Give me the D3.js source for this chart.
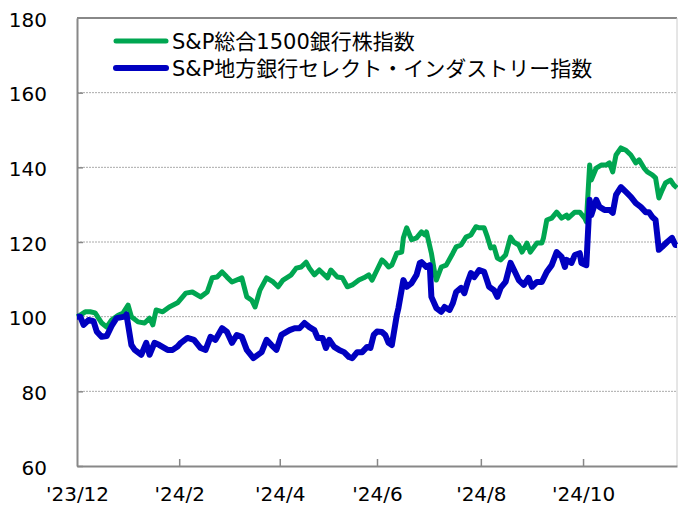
<!DOCTYPE html>
<html>
<head>
<meta charset="utf-8">
<script src="https://cdn.jsdelivr.net/npm/d3@7"></script>
<style>
body { margin: 0; background: #fff; }
svg { font-family: "DejaVu Sans", "Noto Sans CJK JP", sans-serif; }
</style>
</head>
<body>
<svg width="678" height="507"></svg>
<script>
// days counted from 2023-12-29 (=100)
const startDate = "2023-12-29"
const endDate = "2024-12-27"

const greenDays = [0,2,5,8,11,15,18,21,25,28,31,33,37,41,44,46,48,52,56,61,66,70,75,79,82,85,88,91,94,100,103,106,108,111,115,119,122,125,130,133,136,139,141,144,147,152,154,158,161,164,167,171,174,177,179,182,185,187,189,191,194,197,198,200,203,206,209,211,212,215,217,218,221,224,228,230,233,236,239,242,244,247,249,251,253,255,257,260,263,265,268,270,273,275,279,282,283,285,288,291,294,297,298,302,305,308,309,311,312,315,318,321,323,325,327,330,333,336,339,341,344,346,349,351,353,355,357,360,362,364]
const greenValues = [100,100.4,101.3,101.3,101,98.3,97.2,99.1,100.4,101,103.1,100,98.6,98.3,99.6,97.8,101.8,101.3,102.6,103.7,106.3,106.6,105.3,106.6,110.4,110.6,112,110.6,109.3,110.4,105.3,104.4,102.6,107.1,110.4,109.3,108,109.8,111.2,113,113.3,114.6,113,111.2,112.5,110.4,112.5,110.6,110.4,108,108.5,109.8,110.4,111.2,109.8,112.5,115.2,114.4,113.3,113.8,117,117.3,121.1,123.8,120.6,121.1,122.7,121.9,122.7,117,111.7,109.8,113.3,113.8,117,118.7,119.2,121.3,121.9,124.1,123.8,123.8,121.3,118.4,118.7,115.7,115.2,116.5,121.3,120,119.2,117.3,119.7,117.3,119.7,119.7,121.1,125.9,126.4,128,126.4,127.2,126.4,128,128,126.4,125.4,140.6,136.6,139.8,140.6,140.6,141.2,138.8,143.3,145.2,144.6,143.3,141.2,142,139.8,138.8,138,137.2,131.8,133.9,135.8,136.6,135.3,134.5]

const blueDays = [0,2,4,7,10,12,15,18,21,24,29,30,33,35,39,42,44,47,50,55,58,61,63,67,71,75,78,81,84,88,91,94,97,100,103,107,112,115,118,121,124,129,132,135,138,141,144,146,149,151,153,156,159,162,165,167,170,173,176,178,180,182,185,187,189,191,194,195,198,200,203,206,208,209,212,214,215,218,221,223,226,228,230,233,235,237,239,241,244,247,250,253,255,257,260,263,266,268,271,274,276,279,282,285,288,291,294,296,297,300,302,305,306,309,311,312,315,317,320,323,325,327,330,333,336,339,342,345,347,349,351,353,355,358,361,363,364]
const blueValues = [100,100,97.8,99.1,98.8,96,94.6,94.8,97.5,99.6,100,100.6,92.4,91.1,89.8,93,89.8,93,92.4,91.1,91.1,92,93,94.3,93.8,91.6,91.1,94.6,93.8,96.9,95.9,93,95.1,94.6,91.1,88.9,90.5,93.8,92.4,91.1,95.1,96.4,96.9,96.9,98.3,97.2,96.4,94.3,94.3,91.6,93.8,91.9,91.1,90.5,89.2,88.9,90.5,90.5,91.9,91.6,95.1,96,95.9,95.1,93,92.4,100.4,102.3,109.8,108,109,111.2,114.4,114.6,113.3,113.8,105.3,102.3,101.3,102.6,101.8,103.6,106.6,107.7,106.3,109.3,111.7,110.6,112.5,112,108,107.1,105.3,107.7,109.3,114.4,111.7,109.8,108.5,110.4,108,109.3,109.3,112,113.8,117.3,116,113.3,115.2,114.4,116.5,117,114.4,113.8,131.3,127.2,131.3,129.4,128.6,128.6,127.8,132.6,134.7,133.4,132.1,130.4,129.4,128,128,126.7,125.9,117.9,118.7,120,121.1,119.2,119.2]

const yTicks = [60, 80, 100, 120, 140, 160, 180]
const xTickDates = ["2023-12-29", "2024-02-29", "2024-04-30", "2024-06-28", "2024-08-30", "2024-10-31"]
const seriesNames = ["S&P総合1500銀行株指数", "S&P地方銀行セレクト・インダストリー指数"]
const colores = ["#00A651", "#0000C0"]

const mLeft = 77, mRight = 677, mTop = 18, mBottom = 466
const parse = d3.timeParse("%Y-%m-%d")
const start = parse(startDate)

const svg = d3.select("svg")
const xScale = d3.scaleTime().domain([start, parse(endDate)]).range([mLeft, mRight])
const yScale = d3.scaleLinear().domain([60, 180]).range([mBottom, mTop])

const toPoints = (days, vals) => days.map((d, i) => ({ date: d3.timeDay.offset(start, d), v: vals[i] }))
const series = [toPoints(greenDays, greenValues), toPoints(blueDays, blueValues)]

// grid
svg.append("g").selectAll("line")
	.data(yTicks.filter(t => t > 60 && t < 180))
	.enter().append("line")
	.attr("x1", mLeft).attr("x2", mRight)
	.attr("y1", d => yScale(d)).attr("y2", d => yScale(d))
	.style("stroke", "#aaa").style("stroke-width", 1).style("stroke-dasharray", "2,1")

// frame top / right
svg.append("line").attr("x1", mLeft).attr("x2", mRight).attr("y1", mTop).attr("y2", mTop)
	.style("stroke", "#888").style("stroke-width", 2)
svg.append("line").attr("x1", mRight).attr("x2", mRight).attr("y1", mTop).attr("y2", mBottom)
	.style("stroke", "#ccc").style("stroke-width", 1)

const yAxis = d3.axisLeft(yScale).tickValues(yTicks).tickSize(-6).tickSizeOuter(0).tickPadding(30)
const xAxis = d3.axisBottom(xScale).tickValues(xTickDates.map(parse)).tickSize(-7).tickSizeOuter(0)
	.tickPadding(21).tickFormat(d3.timeFormat("'%y/%-m"))

const yG = svg.append("g").attr("transform", `translate(${mLeft},0)`).call(yAxis)
const xG = svg.append("g").attr("transform", `translate(0,${mBottom})`).call(xAxis)

;[yG, xG].forEach(g => {
	g.select(".domain").style("stroke", "#888").style("stroke-width", 2)
	g.selectAll(".tick line").style("stroke", "#888").style("stroke-width", 1.5)
	g.selectAll(".tick text").style("font-size", "20px").style("fill", "#000")
		.style("font-family", "'DejaVu Sans', sans-serif")
})
yG.selectAll(".tick text").attr("dy", "0.4em")
yG.selectAll(".tick").filter(d => d === 180).select("line").remove()
xG.selectAll(".tick").filter((d, i) => i === 0).select("line").remove()

const line = d3.line().x(d => xScale(d.date)).y(d => yScale(d.v))

svg.selectAll("path.serie")
	.data(series)
	.enter().append("path")
	.attr("class", "serie")
	.attr("d", line)
	.style("fill", "none")
	.style("stroke", (d, i) => colores[i])
	.style("stroke-width", (d, i) => i === 0 ? 5 : 6)
	.style("stroke-linejoin", "round")

// legend
const legend = svg.append("g").selectAll("g")
	.data(seriesNames)
	.enter().append("g")
	.attr("transform", (d, i) => `translate(0,${41 + i * 27})`)
legend.append("line")
	.attr("x1", 116).attr("x2", 166)
	.style("stroke", (d, i) => colores[i])
	.style("stroke-width", (d, i) => i === 0 ? 5 : 6)
	.style("stroke-linecap", "round")
legend.append("text")
	.attr("x", 172).attr("y", 7.5)
	.style("font-size", "21px")
	.text(d => d)
</script>
</body>
</html>
